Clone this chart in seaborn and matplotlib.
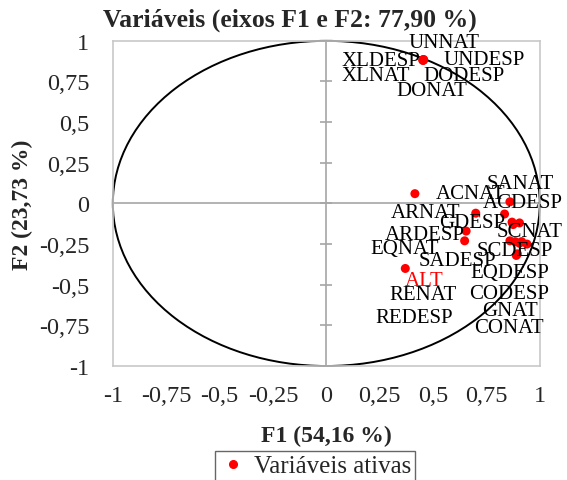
import numpy as np
import pandas as pd
import matplotlib
matplotlib.use('Agg')
import matplotlib.pyplot as plt
from matplotlib.patches import Circle
import seaborn as sns

# variable coordinates on F1 / F2
variables = ['UNNAT', 'XLDESP', 'UNDESP', 'XLNAT', 'DODESP', 'DONAT',
             'SANAT', 'ACNAT', 'ACDESP', 'ARNAT', 'GDESP', 'SCNAT',
             'ARDESP', 'EQNAT', 'SCDESP', 'SADESP', 'EQDESP', 'ALT',
             'RENAT', 'CODESP', 'GNAT', 'REDESP', 'CONAT']
f1 = [0.455, 0.453, 0.456, 0.452, 0.455, 0.454,
      0.86, 0.415, 0.835, 0.70, 0.655, 0.905,
      0.648, 0.87, 0.915, 0.86, 0.94, 0.37,
      0.885, 0.89, 0.875, 0.905, 0.895]
f2 = [0.885, 0.882, 0.884, 0.880, 0.881, 0.883,
      0.01, 0.06, -0.065, -0.06, -0.17, -0.12,
      -0.23, -0.115, -0.235, -0.23, -0.25, -0.40,
      -0.235, -0.32, -0.13, -0.245, -0.31]

tick_vals = [-1, -0.75, -0.5, -0.25, 0, 0.25, 0.5, 0.75, 1]
tick_labels = ['-1', '-0,75', '-0,5', '-0,25', '0', '0,25', '0,5', '0,75', '1']

# label placement (pixels from the point), like the XLSTAT layout
label_offsets = {
    'UNNAT': (21, 17), 'XLDESP': (-42, 0), 'UNDESP': (61, 0),
    'XLNAT': (-47, -15), 'DODESP': (41, -15), 'DONAT': (9, -31),
    'SANAT': (10, 18), 'ACNAT': (56, 0), 'ACDESP': (18, 11),
    'ARNAT': (-50, 1), 'GDESP': (6, 9), 'SCNAT': (10, -9),
    'ARDESP': (-40, 6), 'EQNAT': (-107, -26), 'SCDESP': (-7, -9),
    'SADESP': (-52, -20), 'EQDESP': (-17, -28), 'ALT': (19, -12),
    'RENAT': (-92, -53), 'CODESP': (-7, -38), 'GNAT': (-3, -86),
    'REDESP': (-105, -74), 'CONAT': (-8, -74),
}

df = pd.DataFrame({'F1': f1, 'F2': f2, 'var': variables})

sns.set_style('white')
plt.rcParams['font.family'] = ['Liberation Serif', 'DejaVu Serif']

fig = plt.figure(figsize=(5.67, 4.81), dpi=100)
ax = fig.add_axes([0.199, 0.237, 0.753, 0.676])

# axes through the origin
ax.axhline(0, color='#a6a6a6', lw=1.2, zorder=1)
ax.axvline(0, color='#a6a6a6', lw=1.2, zorder=1)
ax.plot([0] * len(tick_vals), tick_vals, ls='none', marker='_', ms=8,
        mew=1.2, color='#a6a6a6', zorder=1)

ax.add_patch(Circle((0, 0), 1, fill=False, color='black', lw=1.4,
                    zorder=2, clip_on=False))

sns.scatterplot(data=df, x='F1', y='F2', color='red', s=42,
                edgecolor='none', ax=ax, zorder=3, legend=False)

for name, x, y in zip(variables, f1, f2):
    dx, dy = label_offsets[name]
    ax.annotate(name, (x, y), xytext=(dx, dy), textcoords='offset pixels',
                ha='center', va='center', fontsize=15,
                color='red' if name == 'ALT' else 'black', zorder=4)

ax.set_xlim(-1, 1)
ax.set_ylim(-1, 1)
ax.set_xticks(tick_vals)
ax.set_xticklabels(tick_labels)
ax.set_yticks(tick_vals)
ax.set_yticklabels(tick_labels)
ax.tick_params(axis='both', length=0, labelsize=17.5)
ax.tick_params(axis='x', pad=14)
ax.tick_params(axis='y', pad=17)
for sp in ax.spines.values():
    sp.set_color('#c8c8c8')
    sp.set_linewidth(1.2)

ax.set_xlabel('F1 (54,16 %)', fontsize=17, fontweight='bold', labelpad=13)
ax.set_ylabel('F2 (23,73 %)', fontsize=17, fontweight='bold', labelpad=4)
fig.text(0.511, 0.958, 'Variáveis (eixos F1 e F2: 77,90 %)', ha='center',
         va='center', fontsize=18.5, fontweight='bold')

handle = plt.Line2D([], [], ls='none', marker='o', ms=5.5, color='red')
leg = fig.legend([handle], ['Variáveis ativas'], loc='upper center',
                 bbox_to_anchor=(0.556, 0.06), fontsize=18, frameon=True,
                 fancybox=False, handletextpad=0.3, handlelength=1.1,
                 borderpad=0.15, borderaxespad=0)
leg.get_frame().set_edgecolor('#404040')
leg.get_frame().set_linewidth(1.0)

fig.savefig('out.png', dpi=100)
